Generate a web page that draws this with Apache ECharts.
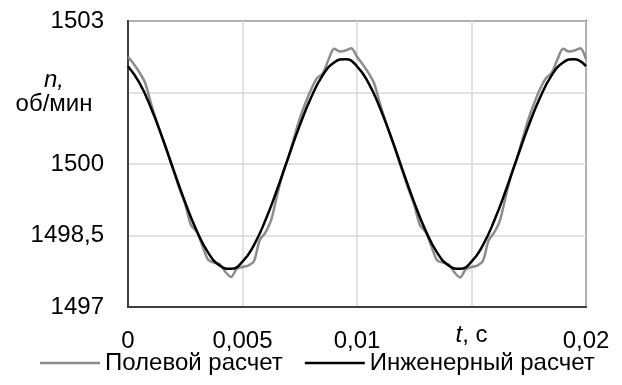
<!DOCTYPE html>
<html>
<head>
<meta charset="utf-8">
<script src="https://cdn.jsdelivr.net/npm/echarts@6/dist/echarts.min.js"></script>
<style>
html,body{margin:0;padding:0;background:#fff;}
#c{width:622px;height:385px;}
</style>
</head>
<body>
<div id="c"></div>
<script>
// Field calculation (gray) — time, s
const fieldTime = [
 0,0.00025,0.0005,0.00075,0.001,0.00125,0.0015,0.00175,0.002,0.00225,
 0.0025,0.00275,0.003,0.00325,0.0035,0.00375,0.004,0.00425,0.0045,0.00475,
 0.005,0.00525,0.0055,0.00575,0.006,0.00625,0.0065,0.00675,0.007,0.00725,
 0.0075,0.00775,0.008,0.00825,0.0085,0.00875,0.009,0.00925,0.0095,0.00975,
 0.01,0.01025,0.0105,0.01075,0.011,0.01125,0.0115,0.01175,0.012,0.01225,
 0.0125,0.01275,0.013,0.01325,0.0135,0.01375,0.014,0.01425,0.0145,0.01475,
 0.015,0.01525,0.0155,0.01575,0.016,0.01625,0.0165,0.01675,0.017,0.01725,
 0.0175,0.01775,0.018,0.01825,0.0185,0.01875,0.019,0.01925,0.0195,0.01975,0.02
];
const fieldSpeed = [
 1502.25,1502.10,1501.92,1501.70,1501.28,1500.90,1500.55,1500.20,1499.84,1499.48,
 1499.15,1498.72,1498.58,1498.28,1497.99,1497.93,1497.90,1497.74,1497.63,1497.80,
 1497.84,1497.87,1497.96,1498.40,1498.56,1498.82,1499.32,1499.78,1500.13,1500.55,
 1500.95,1501.28,1501.57,1501.80,1501.90,1502.18,1502.42,1502.36,1502.38,1502.43,
 1502.25,1502.09,1501.91,1501.69,1501.27,1500.89,1500.54,1500.19,1499.82,1499.47,
 1499.14,1498.72,1498.57,1498.27,1497.98,1497.93,1497.89,1497.73,1497.62,1497.79,
 1497.84,1497.87,1497.97,1498.40,1498.57,1498.83,1499.33,1499.79,1500.14,1500.56,
 1500.96,1501.29,1501.58,1501.80,1501.91,1502.19,1502.42,1502.36,1502.38,1502.43,1502.20
];
// Engineering calculation (black)
const engTime = [
 0,0.0005,0.001,0.0015,0.002,0.0025,0.003,0.0035,0.004,0.0045,
 0.005,0.0055,0.006,0.0065,0.007,0.0075,0.008,0.0085,0.009,0.0095,
 0.01,0.0105,0.011,0.0115,0.012,0.0125,0.013,0.0135,0.014,0.0145,
 0.015,0.0155,0.016,0.0165,0.017,0.0175,0.018,0.0185,0.019,0.0195,0.02
];
const engSpeed = [
 1502.05,1501.70,1501.18,1500.55,1499.86,1499.19,1498.60,1498.14,1497.87,1497.80,
 1497.95,1498.30,1498.82,1499.45,1500.14,1500.81,1501.40,1501.86,1502.13,1502.20,
 1502.05,1501.70,1501.18,1500.55,1499.86,1499.19,1498.60,1498.14,1497.87,1497.80,
 1497.95,1498.30,1498.82,1499.45,1500.14,1500.81,1501.40,1501.86,1502.13,1502.20,
 1502.05
];
const seriesNames = ['Полевой расчет', 'Инженерный расчет'];
const xTicks = {0: '0', 0.005: '0,005', 0.01: '0,01', 0.015: '{it|t}{r|, с}', 0.02: '0,02'};
const yTicks = {1497: '1497', 1498.5: '1498,5', 1500: '1500', 1501.5: '{a|n,}\n{b|об/мин}', 1503: '1503'};

const FONT = '"Liberation Sans", Arial, sans-serif';
const FS = 24;
const chart = echarts.init(document.getElementById('c'), null, {renderer: 'canvas'});
chart.setOption({
  animation: false,
  backgroundColor: '#fff',
  textStyle: {fontFamily: FONT, color: '#000'},
  grid: {left: 128, right: 36, top: 21, bottom: 78, show: true, borderColor: '#3f3f3f', borderWidth: 2, backgroundColor: 'transparent'},
  legend: {
    bottom: 5, left: 35, itemWidth: 60, itemHeight: 2.5, itemGap: 22,
    icon: 'rect',
    textStyle: {fontFamily: FONT, fontSize: 24, color: '#000'},
    data: seriesNames
  },
  xAxis: {
    type: 'value', min: 0, max: 0.02, interval: 0.005,
    axisLine: {show: true, lineStyle: {color: '#3f3f3f', width: 2}},
    axisTick: {show: false},
    splitLine: {show: true, lineStyle: {color: '#d9d9d9', width: 1.5}},
    axisLabel: {
      margin: 22, fontSize: FS, color: '#000', fontFamily: FONT,
      formatter: v => xTicks[Math.round(v*1000)/1000] ?? '',
      rich: {
        it: {fontStyle: 'italic', fontSize: FS, fontFamily: FONT, color: '#000', lineHeight: 12},
        r: {fontSize: FS, fontFamily: FONT, color: '#000', lineHeight: 12}
      }
    }
  },
  yAxis: {
    type: 'value', min: 1497, max: 1503, interval: 1.5,
    axisLine: {show: true, lineStyle: {color: '#3f3f3f', width: 2}},
    axisTick: {show: false},
    splitLine: {show: true, lineStyle: {color: '#d9d9d9', width: 1.5}},
    axisLabel: {
      margin: 24, fontSize: FS, color: '#000', fontFamily: FONT,
      formatter: v => yTicks[v] ?? '',
      rich: {
        a: {fontStyle: 'italic', fontSize: FS, fontFamily: FONT, color: '#000', width: 88, align: 'center', padding: [0,6,0,0], lineHeight: 24},
        b: {fontSize: FS, fontFamily: FONT, color: '#000', width: 88, align: 'center', padding: [0,6,0,0], lineHeight: 24}
      }
    }
  },
  series: [
    {
      name: seriesNames[0], type: 'line', symbol: 'none', smooth: 0.3,
      data: fieldTime.map((t, i) => [t, fieldSpeed[i]]),
      lineStyle: {color: '#8c8c8c', width: 2.5}, itemStyle: {color: '#8c8c8c'}, z: 2
    },
    {
      name: seriesNames[1], type: 'line', symbol: 'none', smooth: true,
      data: engTime.map((t, i) => [t, engSpeed[i]]),
      lineStyle: {color: '#000', width: 2.5}, itemStyle: {color: '#000'}, z: 3
    }
  ]
});
</script>
</body>
</html>
